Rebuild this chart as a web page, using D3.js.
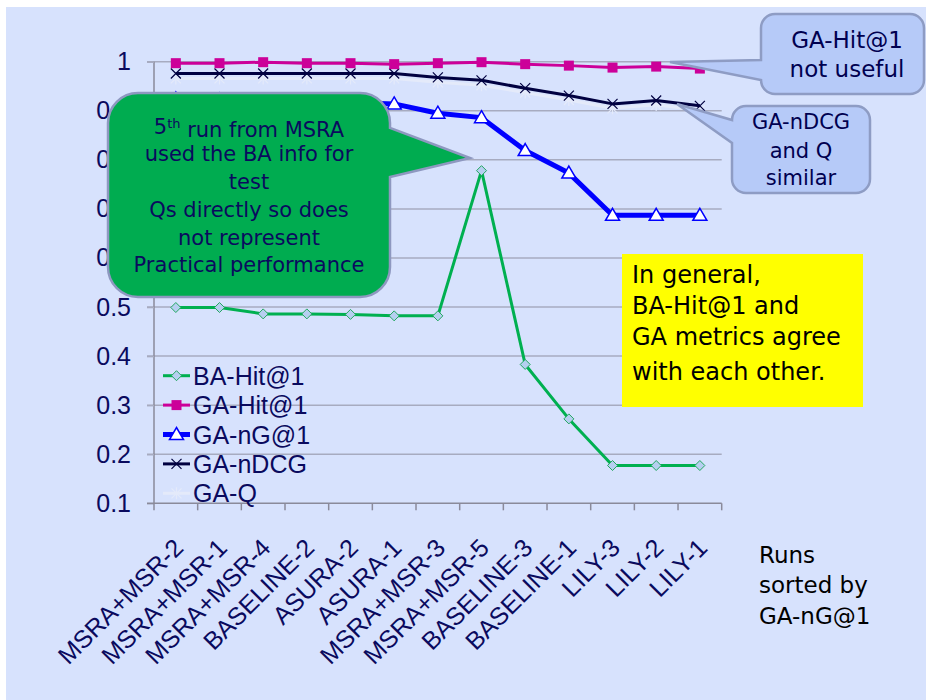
<!DOCTYPE html>
<html>
<head>
<meta charset="utf-8">
<script src="https://cdn.jsdelivr.net/npm/d3@7"></script>
<style>
  html, body { margin: 0; padding: 0; background: #ffffff; }
  svg { display: block; }
</style>
</head>
<body>
<svg id="chart" width="926" height="700"></svg>
<script>
// Runs, in the order sorted by GA-nG@1
const runs = ["MSRA+MSR-2", "MSRA+MSR-1", "MSRA+MSR-4", "BASELINE-2", "ASURA-2", "ASURA-1",
  "MSRA+MSR-3", "MSRA+MSR-5", "BASELINE-3", "BASELINE-1", "LILY-3", "LILY-2", "LILY-1"];

const baHit1  = [0.499, 0.499, 0.486, 0.486, 0.485, 0.482, 0.482, 0.778, 0.383, 0.272, 0.177, 0.177, 0.177];
const gaHit1  = [0.997, 0.997, 0.999, 0.997, 0.997, 0.995, 0.997, 0.999, 0.995, 0.992, 0.988, 0.990, 0.986];
const gaNG1   = [0.924, 0.922, 0.920, 0.918, 0.917, 0.914, 0.895, 0.886, 0.819, 0.773, 0.687, 0.687, 0.687];
const gaNDCG  = [0.976, 0.976, 0.976, 0.976, 0.976, 0.976, 0.968, 0.962, 0.946, 0.931, 0.914, 0.921, 0.910];
const gaQ     = [0.966, 0.966, 0.966, 0.966, 0.966, 0.966, 0.958, 0.952, 0.937, 0.922, 0.905, 0.912, 0.901];

const yTicks = [0.1, 0.2, 0.3, 0.4, 0.5, 0.6, 0.7, 0.8, 0.9, 1];
const yTickLabels = ["0.1", "0.2", "0.3", "0.4", "0.5", "0.6", "0.7", "0.8", "0.9", "1"];

const series = [
  { name: "BA-Hit@1", values: baHit1, color: "#00B050", width: 3, marker: "diamond" },
  { name: "GA-Hit@1", values: gaHit1, color: "#CC0099", width: 3, marker: "square" },
  { name: "GA-nG@1",  values: gaNG1,  color: "#0000FF", width: 5, marker: "triangle" },
  { name: "GA-nDCG",  values: gaNDCG, color: "#000040", width: 3, marker: "cross" },
  { name: "GA-Q",     values: gaQ,    color: "#E4EAFA", width: 3, marker: "star" }
];

const navy = "#0A0A5E";
const axisFont = "'Liberation Sans', Arial, sans-serif";
const noteFont = "'Comic Sans MS', 'DejaVu Sans', sans-serif";

const svg = d3.select("#chart");

// slide background
svg.append("rect").attr("x", 6).attr("y", 7).attr("width", 920).attr("height", 693).attr("fill", "#D7E2FD");

const x = d3.scaleBand().domain(runs).range([154, 721.7]).padding(0);
const y = d3.scaleLinear().domain([0.1, 1]).range([503.3, 61.7]);
const cx = d => x(d) + x.bandwidth() / 2;

// gridlines
svg.append("g").selectAll("line").data(yTicks.slice(1)).join("line")
  .attr("x1", 147).attr("x2", 721.7)
  .attr("y1", d => y(d)).attr("y2", d => y(d))
  .attr("stroke", "#A7ABC0").attr("stroke-width", 1.5);

// y axis
const yAxis = svg.append("g").attr("transform", "translate(154,0)")
  .call(d3.axisLeft(y).tickValues(yTicks).tickFormat((d, i) => yTickLabels[i]).tickSize(7).tickPadding(16));
yAxis.select(".domain").attr("stroke", "#8A8A9A").attr("stroke-width", 1.5).attr("d", "M0,61.7V503.3");
yAxis.selectAll(".tick line").attr("stroke", "#A7ABC0").attr("stroke-width", 1.5);
yAxis.selectAll(".tick text").attr("fill", navy).style("font-family", axisFont).style("font-size", "25px");

// x axis: ticks at category boundaries
const xAxis = svg.append("g").attr("transform", "translate(0,503.3)");
xAxis.append("line").attr("x1", 147).attr("x2", 721.7).attr("y1", 0).attr("y2", 0)
  .attr("stroke", "#8A8A9A").attr("stroke-width", 1.5);
const bounds = runs.map(r => x(r)).concat([x.range()[1]]);
xAxis.selectAll("line.tk").data(bounds).join("line").attr("class", "tk")
  .attr("x1", d => d).attr("x2", d => d).attr("y1", 0).attr("y2", 7)
  .attr("stroke", "#8A8A9A").attr("stroke-width", 1.5);
xAxis.selectAll("text").data(runs).join("text")
  .attr("transform", d => `translate(${cx(d) + 9},${46}) rotate(-45)`)
  .attr("text-anchor", "end")
  .attr("fill", navy).style("font-family", axisFont).style("font-size", "25px")
  .text(d => d);

// marker shapes
function drawMarker(g, s, px, py) {
  if (s.marker === "diamond") {
    g.append("path").attr("d", `M${px},${py - 5}L${px + 5},${py}L${px},${py + 5}L${px - 5},${py}Z`)
      .attr("fill", "#B6CFF0").attr("stroke", "#22A860").attr("stroke-width", 1);
  } else if (s.marker === "square") {
    g.append("rect").attr("x", px - 5).attr("y", py - 5).attr("width", 10).attr("height", 10)
      .attr("fill", s.color);
  } else if (s.marker === "triangle") {
    g.append("path").attr("d", `M${px},${py - 7}L${px + 7},${py + 5}L${px - 7},${py + 5}Z`)
      .attr("fill", "#ffffff").attr("stroke", s.color).attr("stroke-width", 1.5);
  } else if (s.marker === "cross") {
    g.append("path").attr("d", `M${px - 5},${py - 5}L${px + 5},${py + 5}M${px + 5},${py - 5}L${px - 5},${py + 5}`)
      .attr("stroke", s.color).attr("stroke-width", 1.2);
  } else if (s.marker === "star") {
    g.append("path").attr("d", `M${px - 5},${py - 5}L${px + 5},${py + 5}M${px + 5},${py - 5}L${px - 5},${py + 5}M${px},${py - 6}V${py + 6}`)
      .attr("stroke", s.color).attr("stroke-width", 1.2);
  }
}

const line = d3.line().x((d, i) => cx(runs[i])).y(d => y(d));
// draw back-to-front: GA-Q, BA-Hit@1, GA-nG@1, GA-nDCG, GA-Hit@1
const order = [4, 0, 2, 3, 1];
order.forEach(k => {
  const s = series[k];
  const g = svg.append("g");
  g.append("path").datum(s.values).attr("d", line)
    .attr("fill", "none").attr("stroke", s.color).attr("stroke-width", s.width).attr("stroke-linejoin", "round");
  s.values.forEach((v, i) => drawMarker(g, s, cx(runs[i]), y(v)));
});

// legend
const legend = svg.append("g");
series.forEach((s, i) => {
  const ly = 375.7 + i * 29.4;
  legend.append("line").attr("x1", 163).attr("x2", 190).attr("y1", ly).attr("y2", ly)
    .attr("stroke", s.color).attr("stroke-width", s.width);
  drawMarker(legend, s, 176.5, ly);
  legend.append("text").attr("x", 193).attr("y", ly).attr("dy", "0.36em")
    .attr("fill", navy).style("font-family", axisFont).style("font-size", "25px").text(s.name);
});

// callout helper: rounded box with a wedge on its left or right side
function callout(x0, y0, x1, y1, r, side, wy0, wy1, tx, ty) {
  const p = d3.path();
  p.moveTo(x0 + r, y0);
  p.lineTo(x1 - r, y0);
  p.arcTo(x1, y0, x1, y0 + r, r);
  if (side === "right") { p.lineTo(x1, wy0); p.lineTo(tx, ty); p.lineTo(x1, wy1); }
  p.lineTo(x1, y1 - r);
  p.arcTo(x1, y1, x1 - r, y1, r);
  p.lineTo(x0 + r, y1);
  p.arcTo(x0, y1, x0, y1 - r, r);
  if (side === "left") { p.lineTo(x0, wy1); p.lineTo(tx, ty); p.lineTo(x0, wy0); }
  p.lineTo(x0, y0 + r);
  p.arcTo(x0, y0, x0 + r, y0, r);
  p.closePath();
  return p.toString();
}

function noteLines(lines, xPos, baselines, size, color, anchor) {
  const t = svg.append("g");
  lines.forEach((l, i) => {
    t.append("text").attr("x", xPos).attr("y", baselines[i])
      .attr("text-anchor", anchor).attr("fill", color)
      .style("font-family", noteFont).style("font-size", size + "px").text(l);
  });
  return t;
}

// green note about the fifth MSRA run
svg.append("path").attr("d", callout(108, 93, 390, 297, 30, "right", 128, 177, 470, 158))
  .attr("fill", "#00AC50").attr("stroke", "#8E98C0").attr("stroke-width", 2.5);
const gl = svg.append("text").attr("x", 249).attr("y", 133.5).attr("text-anchor", "middle")
  .attr("fill", navy).style("font-family", noteFont).style("font-size", "21px");
gl.append("tspan").text("5");
gl.append("tspan").attr("dy", "-0.4em").style("font-size", "13px").text("th");
gl.append("tspan").attr("dy", "0.4em").text(" run from MSRA");
noteLines(["used the BA info for", "test", "Qs directly so does", "not represent", "Practical performance"],
  249, [161.3, 189, 216.8, 244.6, 272.4], 21, navy, "middle");

// blue notes on the right
svg.append("path").attr("d", callout(761, 14, 924, 94, 14, "left", 60, 80, 670, 62))
  .attr("fill", "#B6CAF8").attr("stroke", "#8E9CC4").attr("stroke-width", 2.5);
noteLines(["GA-Hit@1", "not useful"], 847, [48.3, 77.3], 23, "#000050", "middle");

svg.append("path").attr("d", callout(732, 106, 870, 193, 14, "left", 120, 143, 677, 104))
  .attr("fill", "#B6CAF8").attr("stroke", "#8E9CC4").attr("stroke-width", 2.5);
noteLines(["GA-nDCG", "and Q", "similar"], 801, [129.3, 158.3, 185], 21, "#000050", "middle");

// yellow summary box
svg.append("rect").attr("x", 622).attr("y", 254).attr("width", 241).attr("height", 153).attr("fill", "#FFFF00");
noteLines(["In general,", "BA-Hit@1 and", "GA metrics agree", "with each other."],
  632, [283.3, 314, 345, 380], 24, "#000000", "start");

// x axis caption
noteLines(["Runs", "sorted by", "GA-nG@1"], 759, [562.7, 593.3, 624], 23, "#000000", "start");
</script>
</body>
</html>
